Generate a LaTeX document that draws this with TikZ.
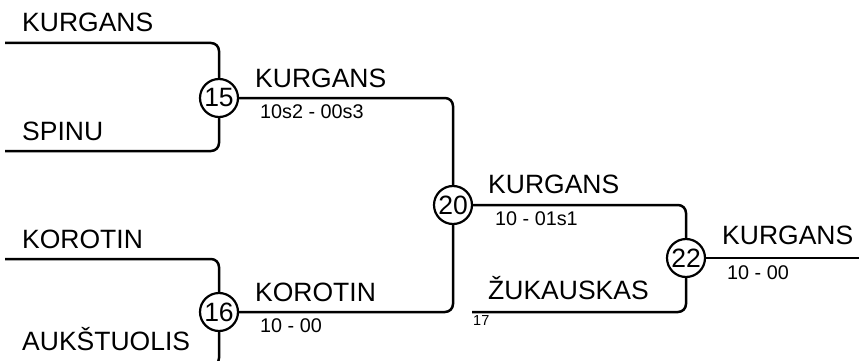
\documentclass[tikz,border=0pt]{standalone}
\usepackage{fontspec}
\setmainfont{Liberation Sans}
\usetikzlibrary{positioning}

\begin{document}
\begin{tikzpicture}[x=1pt,y=-1pt,
  match/.style={draw,circle,line width=2.2pt,minimum size=38pt,inner sep=0pt,
    font=\fontsize{26.5}{28}\selectfont},
  player/.style={anchor=base west,inner sep=0pt,font=\fontsize{26.5}{30}\selectfont},
  score/.style={anchor=base west,inner sep=0pt,font=\fontsize{19.8}{22}\selectfont},
  seed/.style={anchor=base west,inner sep=0pt,font=\fontsize{14.5}{16}\selectfont},
  brk/.style={line width=2.5pt,rounded corners=8pt}]
\useasboundingbox (0,0) rectangle (859,361);
\clip (0,0) rectangle (859,361);
\node[match] (m15) at (219,98)  {15};
\node[match] (m16) at (219,312) {16};
\node[match] (m20) at (453,205) {20};
\node[match] (m22) at (686,258) {22};
\coordinate (kurgA) at (5,43);
\coordinate (spinu) at (5,151);
\coordinate (korA)  at (5,259);
\coordinate (auks)  at (5,366);
\coordinate (zuk)   at (472,312);
\coordinate (fin)   at (862,258);
\draw[brk] (kurgA) -| (m15);
\draw[brk] (spinu) -| (m15);
\draw[brk] (korA)  -| (m16);
\draw[brk] (auks)  -| (m16);
\draw[brk] (m15) -| (m20);
\draw[brk] (m16) -| (m20);
\draw[brk] (m20) -| (m22);
\draw[brk] (zuk) -| (m22);
\draw[brk] (m22) -- (fin);
\node[player] (nKurgA) at (22,32)   {KURGANS};
\node[player] (nSpinu) at (22,140)  {SPINU};
\node[player] (nKorA)  at (22,248)  {KOROTIN};
\node[player] (nAuks)  at (22,350)  {AUKŠTUOLIS};
\node[player] (nKurgB) at (255,87)  {KURGANS};
\node[score]  (s15)    at (260,118) {10s2 - 00s3};
\node[player] (nKorB)  at (255,301) {KOROTIN};
\node[score]  (s16)    at (260,332) {10 - 00};
\node[player] (nKurgC) at (488,193) {KURGANS};
\node[score]  (s20)    at (495,225) {10 - 01s1};
\node[player] (nZuk)   at (488,299) {ŽUKAUSKAS};
\node[seed]   (n17)    at (473,325) {17};
\node[player] (nKurgD) at (722,244) {KURGANS};
\node[score]  (s22)    at (727,279) {10 - 00};
\end{tikzpicture}
\end{document}
